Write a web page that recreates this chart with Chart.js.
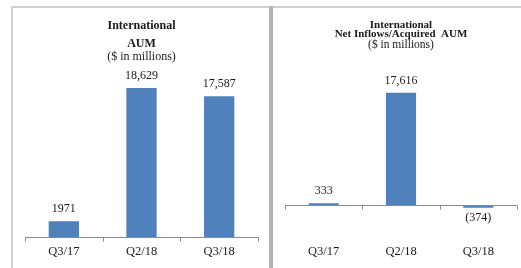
<!DOCTYPE html>
<html lang="en">
<head>
<meta charset="UTF-8">
<title>International AUM</title>
<script src="https://cdn.jsdelivr.net/npm/chart.js@4/dist/chart.umd.min.js"></script>
<style>
    body { margin: 0; background: #fff; overflow: hidden; }
    .line { position: absolute; background: #d2d2d2; }
    canvas { position: absolute; }
</style>
</head>
<body>
<div class="line" style="left:11px; top:6px; width:510px; height:2px;"></div>
<div class="line" style="left:11px; top:6px; width:2px; height:262px;"></div>
<div class="line" style="left:269px; top:6px; width:4px; height:262px; background:#b4b4b4;"></div>

<canvas id="aumChart" width="246" height="262" style="left:13px; top:8px;"></canvas>
<canvas id="flowChart" width="246" height="262" style="left:274px; top:8px;"></canvas>

<script>
    const quarters = ['Q3/17', 'Q2/18', 'Q3/18'];

    const aumValues = [1971, 18629, 17587];
    const aumLabels = ['1971', '18,629', '17,587'];

    const flowValues = [333, 17616, -374];
    const flowLabels = ['333', '17,616', '(374)'];

    const barColor = '#4f81bd';
    const textColor = '#1a1a1a';
    const serif = "'Liberation Serif', 'DejaVu Serif', serif";

    // zero line with small tick marks between the categories
    const baseLine = {
        id: 'baseLine',
        afterDatasetsDraw(chart) {
            const ctx = chart.ctx;
            const area = chart.chartArea;
            const x = chart.scales.x;
            const y0 = Math.round(chart.scales.y.getPixelForValue(0)) + 0.5;
            const n = x.ticks.length;
            const step = (area.right - area.left) / n;
            ctx.save();
            ctx.strokeStyle = '#8a8a8a';
            ctx.lineWidth = 1;
            ctx.beginPath();
            ctx.moveTo(area.left, y0);
            ctx.lineTo(area.right, y0);
            for (let i = 0; i <= n; i++) {
                let px = Math.round(area.left + i * step) + 0.5;
                ctx.moveTo(px, y0);
                ctx.lineTo(px, y0 + 4);
            }
            ctx.stroke();
            ctx.restore();
        }
    };

    // value labels above (or below) each bar
    const valueLabels = {
        id: 'valueLabels',
        afterDatasetsDraw(chart) {
            const ctx = chart.ctx;
            const meta = chart.getDatasetMeta(0);
            const texts = chart.options.plugins.valueLabels.texts;
            const values = chart.data.datasets[0].data;
            ctx.save();
            ctx.font = '12px ' + serif;
            ctx.fillStyle = textColor;
            ctx.textAlign = 'center';
            ctx.textBaseline = 'middle';
            meta.data.forEach(function (bar, i) {
                if (values[i] >= 0) {
                    ctx.fillText(texts[i], bar.x, bar.y - 12);
                } else {
                    ctx.fillText(texts[i], bar.x, bar.y + 10);
                }
            });
            ctx.restore();
        }
    };

    function makeChart(id, values, texts, titleLines, titleOpts, yMin, yMax, pad) {
        const ctx = document.getElementById(id).getContext('2d');
        return new Chart(ctx, {
            type: 'bar',
            data: {
                labels: quarters,
                datasets: [{
                    data: values,
                    backgroundColor: barColor,
                    borderWidth: 0,
                    barPercentage: 0.39,
                    categoryPercentage: 1
                }]
            },
            options: {
                responsive: false,
                animation: false,
                devicePixelRatio: 1,
                layout: { padding: pad },
                plugins: {
                    legend: { display: false },
                    tooltip: { enabled: false },
                    title: {
                        display: true,
                        text: titleLines,
                        color: textColor,
                        font: { family: serif, size: titleOpts.size, weight: 'bold', lineHeight: titleOpts.lineHeight },
                        padding: { top: titleOpts.top, bottom: titleOpts.bottom }
                    },
                    subtitle: {
                        display: true,
                        text: '($ in millions)',
                        color: textColor,
                        font: { family: serif, size: titleOpts.subSize, lineHeight: '8px' },
                        padding: { top: 0, bottom: titleOpts.subBottom }
                    },
                    valueLabels: { texts: texts }
                },
                scales: {
                    x: {
                        grid: { display: false, drawTicks: false },
                        border: { display: false },
                        ticks: {
                            color: textColor,
                            padding: 8,
                            font: { family: serif, size: 12.5, lineHeight: '13px' }
                        }
                    },
                    y: {
                        display: false,
                        min: yMin,
                        max: yMax
                    }
                }
            },
            plugins: [baseLine, valueLabels]
        });
    }

    makeChart('aumChart', aumValues, aumLabels,
        ['International', 'AUM'],
        { size: 12, lineHeight: '18px', top: 8.5, bottom: 0, subSize: 12, subBottom: 4.5 },
        0, 21500,
        { left: 12, right: 1, top: 0, bottom: 4 });

    makeChart('flowChart', flowValues, flowLabels,
        ['International', 'Net Inflows/Acquired  AUM'],
        { size: 11, lineHeight: '9.5px', top: 12, bottom: 2, subSize: 11.5, subBottom: 10.5 },
        -4930, 22800,
        { left: 11, right: 3, top: 0, bottom: 4 });
</script>
</body>
</html>
